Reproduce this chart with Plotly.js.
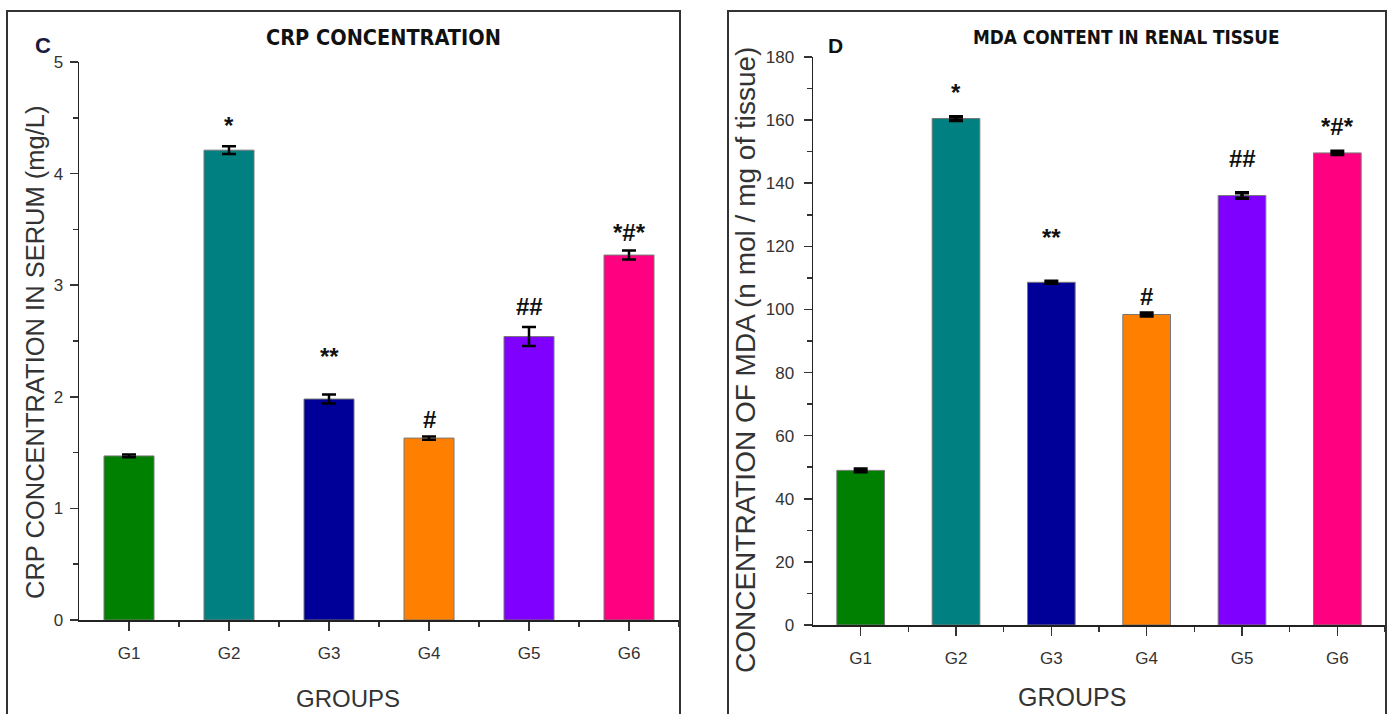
<!DOCTYPE html>
<html>
<head>
<meta charset="utf-8">
<script src="https://cdn.plot.ly/plotly-3.0.1.min.js"></script>
<style>
html,body{margin:0;padding:0;background:#fff;}
#chart{width:1391px;height:714px;}
</style>
</head>
<body>
<div id="chart"></div>
<script>
// ---- data ----
const groups = ["G1", "G2", "G3", "G4", "G5", "G6"];
const groupPos = [1, 2, 3, 4, 5, 6];
const crpValues = [1.47, 4.21, 1.98, 1.63, 2.54, 3.27];
const crpErrors = [0.012, 0.035, 0.04, 0.015, 0.085, 0.04];
const mdaValues = [49.0, 160.5, 108.6, 98.4, 136.1, 149.6];
const mdaErrors = [0.4, 0.6, 0.3, 0.5, 0.9, 0.5];
const crpSig = ["", "*", "**", "#", "##", "*#*"];
const mdaSig = ["", "*", "**", "#", "##", "*#*"];
const barColors = ["#008000", "#008080", "#000099", "#ff8000", "#8000ff", "#ff0080"];

// ---- styling / layout helpers ----
const W = 1391, H = 714;
const px = v => v / W;
const py = v => 1 - v / H;
const crpLabelShift = [0, 5, 23, 1, 5, 3];
const mdaLabelShift = [0, 9, 28, 1, 19, 9];

const sans = "Liberation Sans, Arial, sans-serif";
const cond = "DejaVu Sans Condensed, Liberation Sans, Arial, sans-serif";
const tickFont = {family: sans, size: 17, color: "#333"};

function barTrace(vals, errs, xa, ya, capW, capT) {
  return {
    type: "bar",
    x: groupPos,
    y: vals,
    width: 0.5,
    xaxis: xa, yaxis: ya,
    marker: {color: barColors, line: {color: "#777", width: 1}},
    error_y: {type: "data", array: errs, visible: true, color: "#000", thickness: capT, width: capW},
    hoverinfo: "x+y",
    showlegend: false
  };
}

const data = [
  barTrace(crpValues, crpErrors, "x", "y", 7, 2.5),
  barTrace(mdaValues, mdaErrors, "x2", "y2", 7, 3.5)
];

function xAxis(domain, anchor) {
  return {
    domain: domain, anchor: anchor,
    range: [0.5, 6.5],
    tickmode: "array", tickvals: groupPos, ticktext: groups,
    ticks: "outside", ticklen: 9, tickwidth: 1.5, tickcolor: "#333",
    ticklabelstandoff: 8,
    minor: {tickmode: "array", tickvals: [1.5, 2.5, 3.5, 4.5, 5.5, 6.5], ticks: "outside", ticklen: 5, tickwidth: 1.5, tickcolor: "#333"},
    showline: true, linecolor: "#222", linewidth: 1.5,
    showgrid: false, zeroline: false,
    tickfont: tickFont, fixedrange: true
  };
}
function yAxis(domain, anchor, range, dtick, minorDtick, standoff) {
  return {
    domain: domain, anchor: anchor,
    range: range, dtick: dtick, tick0: 0,
    ticks: "outside", ticklen: 8, tickwidth: 1.5, tickcolor: "#333",
    ticklabelstandoff: standoff,
    minor: {dtick: minorDtick, tick0: 0, ticks: "outside", ticklen: 5, tickwidth: 1.5, tickcolor: "#333", showgrid: false},
    showline: true, linecolor: "#222", linewidth: 1.5,
    showgrid: false, zeroline: false,
    tickfont: tickFont, fixedrange: true
  };
}

function paperText(x, y, text, font, extra) {
  return Object.assign({xref: "paper", yref: "paper", x: px(x), y: py(y), xanchor: "center", yanchor: "middle",
    text: text, showarrow: false, font: font}, extra || {});
}

const annotations = [];
// panel titles
annotations.push(paperText(383, 37, "<b>CRP CONCENTRATION</b>", {family: cond, size: 21.5, color: "#111"}));
annotations.push(paperText(1126, 37, "<b>MDA CONTENT IN RENAL TISSUE</b>", {family: cond, size: 18.8, color: "#111"}));
annotations.push(paperText(43, 45, "<b>C</b>", {family: sans, size: 22, color: "#1a1a40"}));
annotations.push(paperText(835, 45, "<b>D</b>", {family: sans, size: 21, color: "#111"}));
// axis titles
annotations.push(paperText(35, 352, "CRP CONCENTRATION IN SERUM (mg/L)", {family: sans, size: 25.5, color: "#333"}, {textangle: -90}));
annotations.push(paperText(745, 360, "CONCENTRATION OF MDA (n mol / mg of tissue)", {family: sans, size: 28, color: "#333"}, {textangle: -90}));
annotations.push(paperText(348, 698, "GROUPS", {family: sans, size: 24, color: "#333"}));
annotations.push(paperText(1072, 697, "GROUPS", {family: sans, size: 25, color: "#333"}));
// significance labels
groups.forEach((g, i) => {
  if (crpSig[i]) annotations.push({xref: "x", yref: "y", x: groupPos[i], y: crpValues[i] + crpErrors[i], xanchor: "center", yanchor: "bottom", yshift: crpLabelShift[i], text: "<b>" + crpSig[i] + "</b>", showarrow: false, font: {family: sans, size: 24, color: "#111"}});
  if (mdaSig[i]) annotations.push({xref: "x2", yref: "y2", x: groupPos[i], y: mdaValues[i] + mdaErrors[i], xanchor: "center", yanchor: "bottom", yshift: mdaLabelShift[i], text: "<b>" + mdaSig[i] + "</b>", showarrow: false, font: {family: sans, size: 24, color: "#111"}});
});

const shapes = [
  {type: "rect", xref: "paper", yref: "paper", x0: px(7), x1: px(680), y0: py(716), y1: py(11), line: {color: "#333", width: 2}},
  {type: "rect", xref: "paper", yref: "paper", x0: px(728), x1: px(1386), y0: py(716), y1: py(11), line: {color: "#333", width: 2}}
];

const layout = {
  width: W, height: H,
  margin: {l: 0, r: 0, t: 0, b: 0},
  paper_bgcolor: "#fff", plot_bgcolor: "#fff",
  showlegend: false,
  xaxis: xAxis([px(79), px(679)], "y"),
  yaxis: yAxis([py(620), py(62)], "x", [0, 5], 1, 0.5, 3),
  xaxis2: xAxis([px(813), px(1385)], "y2"),
  yaxis2: yAxis([py(625), py(57)], "x2", [0, 180], 20, 10, 6),
  annotations: annotations,
  shapes: shapes
};

Plotly.newPlot("chart", data, layout, {displayModeBar: false, staticPlot: true});
</script>
</body>
</html>
